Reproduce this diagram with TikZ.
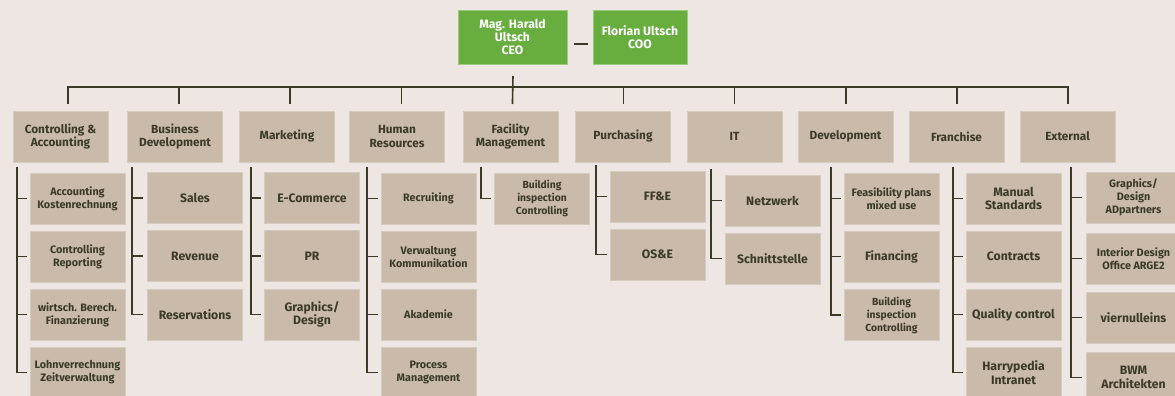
\documentclass[tikz,border=0pt]{standalone}
\usepackage{fontspec}
\setmainfont{Fira Sans}
\usetikzlibrary{calc}
\definecolor{bg}{HTML}{EDE6E3}
\definecolor{boxfill}{HTML}{C9BAAA}
\definecolor{boxedge}{HTML}{D6CBC0}
\definecolor{gr}{HTML}{67AE3E}
\definecolor{gredge}{HTML}{9CCB80}
\definecolor{ink}{HTML}{3A3A26}
\tikzset{
  box/.style={draw=boxedge, line width=0.8pt, fill=boxfill, minimum width=95, minimum height=51,
    inner sep=0pt, align=center, text=ink, font=\bfseries\fontsize{11.8}{13.3}\selectfont},
  topbox/.style={draw=gredge, line width=0.8pt, fill=gr, minimum height=54, inner sep=0pt,
    align=center, text=white, font=\bfseries\fontsize{12.2}{13}\selectfont},
  lg/.style={font=\bfseries\fontsize{12.2}{13.5}\selectfont},
  sm/.style={font=\bfseries\fontsize{10.8}{13}\selectfont},
  sb/.style={font=\bfseries\fontsize{10.3}{13}\selectfont},
  conn/.style={draw=ink, line width=1.6pt}
}
\begin{document}
\begin{tikzpicture}[x=1pt,y=-1pt]
\fill[bg] (0,0) rectangle (1175,396);
\useasboundingbox (0,0) rectangle (1175,396);
\clip (0,0) rectangle (1175,396);

% top
\node[topbox, minimum width=109] (ceo) at (512.5,37) {Mag. Harald\\Ultsch\\CEO};
\node[topbox, minimum width=94] (coo) at (640,37) {Florian Ultsch\\COO};
\draw[conn] ($(ceo.east)+(7,7)$) coordinate (dA) -- ($(coo.west)+(-5,7)$) coordinate (dB);

% level 1
\node[box] (h1) at (60.5,136.5) {Controlling \&\\Accounting};
\node[box] (h2) at (175,136.5) {Business\\Development};
\node[box] (h3) at (287,136.5) {Marketing};
\node[box] (h4) at (397,136.5) {Human\\Resources};
\node[box] (h5) at (510.5,136.5) {Facility\\Management};
\node[box] (h6) at (623,136.5) {Purchasing};
\node[box] (h7) at (734.5,136.5) {IT};
\node[box] (h8) at (845.5,136.5) {Development};
\node[box] (h9) at (956.5,136.5) {Franchise};
\node[box] (h10) at (1067.5,136.5) {External};

% bus
\coordinate (ceoT) at (513,76);
\foreach \i [evaluate=\i as \xx using 68+111.11*(\i-1)] in {1,...,10}{
  \coordinate (b\i) at (\xx,87);
  \coordinate (d\i) at (\xx,104);
}
\draw[conn] (d1) -- (b1) -- (b10) -- (d10);
\foreach \i in {2,...,9}{ \draw[conn] (b\i) -- (d\i); }
\draw[conn] (ceoT) -- (d5);

% column 1
\node[box,sm] (c1a) at (77.5,198.5) {Accounting\\Kostenrechnung};
\node[box,sm] (c1b) at (77.5,256.5) {Controlling\\Reporting};
\node[box,sm] (c1c) at (77.5,314.5) {wirtsch. Berech.\\Finanzierung};
\node[box,sm] (c1d) at (77.5,372.5) {Lohnverrechnung\\Zeitverwaltung};
% column 2
\node[box,lg] (c2a) at (195,198) {Sales};
\node[box,lg] (c2b) at (195,256) {Revenue};
\node[box,lg] (c2c) at (195,314.5) {Reservations};
% column 3
\node[box,lg] (c3a) at (312,198) {E-Commerce};
\node[box,lg] (c3b) at (312,256) {PR};
\node[box,lg] (c3c) at (312,314.5) {Graphics/\\Design};
% column 4
\node[box,sm] (c4a) at (428.5,198.5) {Recruiting};
\node[box,sm] (c4b) at (428.5,256.5) {Verwaltung\\Kommunikation};
\node[box,sm] (c4c) at (428.5,314.5) {Akademie};
\node[box,sm] (c4d) at (428.5,372.5) {Process\\Management};
% column 5
\node[box,sb] (c5a) at (542,198.5) {Building\\inspection\\Controlling};
% column 6
\node[box,lg] (c6a) at (657.5,196.5) {FF\&E};
\node[box,lg] (c6b) at (657.5,254.5) {OS\&E};
% column 7
\node[box,lg] (c7a) at (772.5,200.5) {Netzwerk};
\node[box,lg] (c7b) at (772.5,258.5) {Schnittstelle};
% column 8
\node[box,sm] (c8a) at (891.5,198.5) {Feasibility plans\\mixed use};
\node[box,lg] (c8b) at (891.5,256.5) {Financing};
\node[box,sb] (c8c) at (891.5,315) {Building\\inspection\\Controlling};
% column 9
\node[box,lg] (c9a) at (1013.5,198.5) {Manual\\Standards};
\node[box,lg] (c9b) at (1013.5,256.5) {Contracts};
\node[box,lg] (c9c) at (1013.5,314.5) {Quality control};
\node[box,lg] (c9d) at (1013.5,372.5) {Harrypedia\\Intranet};
% column 10
\node[box,sm] (c10a) at (1133.5,197.5) {Graphics/\\Design\\ADpartners};
\node[box,sm] (c10b) at (1133.5,258.5) {Interior Design\\Office ARGE2};
\node[box,lg] (c10c) at (1133.5,317.5) {viernulleins};
\node[box,lg] (c10d) at (1133.5,377.5) {BWM\\Architekten};

% brackets
\coordinate (v1) at (17,167);
\coordinate (v2) at (132,167);
\coordinate (v3) at (251,167);
\coordinate (v4) at (367,167);
\coordinate (v5) at (481,167);
\coordinate (v6) at (596,165);
\coordinate (v7) at (711,169);
\coordinate (v8) at (831,167);
\coordinate (v9) at (953,167);
\coordinate (v10) at (1071,167);

\draw[conn] (v1) |- ($(c1d.west)+(-3,0)$);
\foreach \c in {c1a,c1b,c1c}{\draw[conn] (v1 |- \c.west) -- ($(\c.west)+(-3,0)$);}
\draw[conn] (v2) |- ($(c2c.west)+(-4,0)$);
\foreach \c in {c2a,c2b}{\draw[conn] (v2 |- \c.west) -- ($(\c.west)+(-4,0)$);}
\draw[conn] (v3) |- ($(c3c.west)+(-3,0)$);
\foreach \c in {c3a,c3b}{\draw[conn] (v3 |- \c.west) -- ($(\c.west)+(-3,0)$);}
\draw[conn] (v4) |- ($(c4d.west)+(-3,0)$);
\foreach \c in {c4a,c4b,c4c}{\draw[conn] (v4 |- \c.west) -- ($(\c.west)+(-3,0)$);}
\draw[conn] (v5) |- ($(c5a.west)+(-3,0)$);
\draw[conn] (v6) |- ($(c6b.west)+(-3,0)$);
\draw[conn] (v6 |- c6a.west) -- ($(c6a.west)+(-3,0)$);
\draw[conn] (v7) |- ($(c7b.west)+(-3,0)$);
\draw[conn] (v7 |- c7a.west) -- ($(c7a.west)+(-3,0)$);
\draw[conn] (v8) |- ($(c8c.west)+(-3,0)$);
\foreach \c in {c8a,c8b}{\draw[conn] (v8 |- \c.west) -- ($(\c.west)+(-3,0)$);}
\draw[conn] (v9) |- ($(c9d.west)+(-3,0)$);
\foreach \c in {c9a,c9b,c9c}{\draw[conn] (v9 |- \c.west) -- ($(\c.west)+(-3,0)$);}
\draw[conn] (v10) |- ($(c10d.west)+(-4,0)$);
\foreach \c in {c10a,c10b,c10c}{\draw[conn] (v10 |- \c.west) -- ($(\c.west)+(-4,0)$);}
\end{tikzpicture}
\end{document}
